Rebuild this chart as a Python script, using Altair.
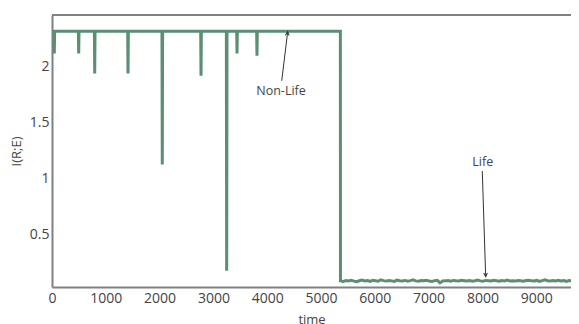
import altair as alt
import pandas as pd

# ---- data ----
plateau = 2.32
spike_times = [43, 496, 794, 1413, 2050, 2770, 3247, 3439, 3810]
spike_values = [2.12, 2.12, 1.94, 1.94, 1.125, 1.92, 0.17, 2.12, 2.10]
drop_time = 5360
life_step = 50
life_values = [0.080, 0.074, 0.083, 0.079, 0.086, 0.078, 0.072, 0.081, 0.088, 0.079,
               0.083, 0.076, 0.085, 0.081, 0.077, 0.090, 0.082, 0.078, 0.084, 0.080,
               0.075, 0.087, 0.081, 0.079, 0.084, 0.077, 0.082, 0.089, 0.080, 0.076,
               0.083, 0.081, 0.086, 0.078, 0.074, 0.082, 0.085, 0.062, 0.079, 0.080,
               0.083, 0.077, 0.084, 0.081, 0.079, 0.086, 0.082, 0.078, 0.083, 0.076,
               0.081, 0.088, 0.080, 0.077, 0.084, 0.082, 0.079, 0.085, 0.081, 0.076,
               0.083, 0.080, 0.087, 0.079, 0.082, 0.078, 0.084, 0.081, 0.077, 0.083,
               0.086, 0.080, 0.079, 0.084, 0.075, 0.082, 0.089, 0.081, 0.078, 0.083,
               0.080, 0.085, 0.079, 0.082, 0.076, 0.084, 0.081, 0.078, 0.083, 0.080,
               0.086, 0.079, 0.082]

x_ticks = [0, 1000, 2000, 3000, 4000, 5000, 6000, 7000, 8000, 9000]
y_ticks = [0.5, 1, 1.5, 2]

ann_labels = ["Non-Life", "Life"]
ann_text_t = [4257, 8006]
ann_text_v = [1.783, 1.149]
ann_tail_t = [4270, 7998]
ann_tail_v = [1.875, 1.065]
ann_tip_t = [4381, 8061]
ann_tip_v = [2.315, 0.117]
ann_angle = [7, 178]

# ---- build table ----
times, vals = [0], [plateau]
for t, v in zip(spike_times, spike_values):
    times += [t - 6, t, t + 6]
    vals += [plateau, v, plateau]
times.append(drop_time)
vals.append(plateau)
for i, v in enumerate(life_values):
    times.append(drop_time + 2 + i * life_step)
    vals.append(v)
series = pd.DataFrame({"time": times, "I": vals, "i": list(range(len(times)))})

ann = pd.DataFrame({
    "label": ann_labels, "tt": ann_text_t, "tv": ann_text_v,
    "t0": ann_tail_t, "v0": ann_tail_v, "t1": ann_tip_t, "v1": ann_tip_v,
    "angle": ann_angle,
})

W, H = 519, 272
xscale = alt.Scale(domain=[0, 9647], nice=False, zero=False)
yscale = alt.Scale(domain=[0.025, 2.465], nice=False, zero=False)

line = alt.Chart(series).mark_line(color="#5a8f74", strokeWidth=3, clip=True).encode(
    x=alt.X("time:Q", scale=xscale,
            axis=alt.Axis(title="time", values=x_ticks, format="d", grid=False, ticks=False,
                          domainColor="#808080", domainWidth=2, labelPadding=4,
                          labelFontSize=14, labelColor="#444", titleFontSize=13,
                          titleColor="#444", titleFontWeight="normal", titlePadding=8,
                          labelFlush=False, labelOverlap=False)),
    y=alt.Y("I:Q", scale=yscale,
            axis=alt.Axis(title="I(R;E)", values=y_ticks, format="~g", grid=False, ticks=False,
                          domainColor="#808080", domainWidth=2, labelPadding=3,
                          labelFontSize=14, labelColor="#444", titleFontSize=13,
                          titleColor="#444", titleFontWeight="normal", titlePadding=6)),
    order="i:Q",
)

top_border = alt.Chart(series).mark_rule(color="#808080", strokeWidth=2).encode(
    x=alt.value(0), x2=alt.value(W), y=alt.value(0))

arrows = alt.Chart(ann).mark_rule(color="#333", strokeWidth=1).encode(
    x="t0:Q", y="v0:Q", x2="t1:Q", y2="v1:Q")

heads = alt.Chart(ann).mark_point(
    shape="M -1 2 L 0 0 L 1 2", filled=False, color="#333", strokeWidth=1, size=14, opacity=1
).encode(x="t1:Q", y="v1:Q", angle=alt.Angle("angle:Q", scale=None))

texts = alt.Chart(ann).mark_text(fontSize=12.5, color="#444", align="center", baseline="middle").encode(
    x="tt:Q", y="tv:Q", text="label:N")

chart = alt.layer(top_border, line, arrows, heads, texts).properties(
    width=W, height=H,
    autosize=alt.AutoSizeParams(type="none"),
    padding={"left": 44, "top": 7, "right": 0, "bottom": 40},
).configure(font="Open Sans").configure_view(strokeWidth=0)

chart.save("out.html", embed_options={"renderer": "svg", "actions": False})
